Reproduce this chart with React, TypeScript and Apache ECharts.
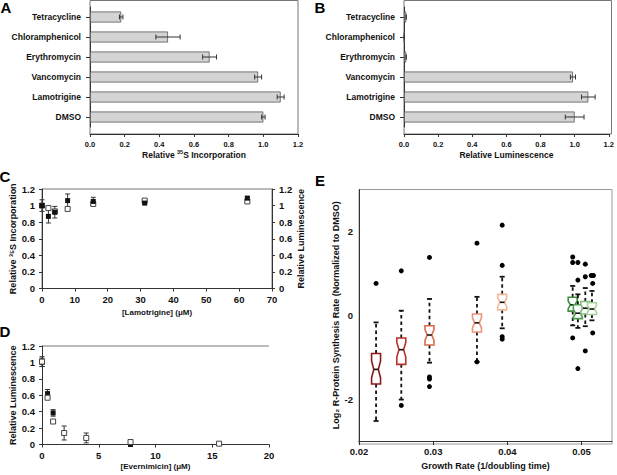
import React, { useEffect, useRef } from "react";
import * as echarts from "echarts";

const FONT = "'Liberation Sans', Arial, Helvetica, sans-serif";

// ---------- Panels A / B ----------
const drugs = ["Tetracycline", "Chloramphenicol", "Erythromycin", "Vancomycin", "Lamotrigine", "DMSO"];
const s35Incorporation = [0.18, 0.45, 0.69, 0.97, 1.1, 1.0];
const s35IncorporationErr = [0.01, 0.07, 0.04, 0.02, 0.02, 0.01];
const luminescence = [0.013, 0.002, 0.013, 0.99, 1.08, 1.0];
const luminescenceErr = [0.0, 0.0, 0.0, 0.015, 0.04, 0.055];

// ---------- Panel C ----------
const lamotrigineConc = [0, 1.95, 3.9, 7.8, 15.6, 31.25, 62.5];
const lamIncorporation = [1.0, 0.87, 0.92, 1.06, 1.05, 1.03, 1.09];
const lamIncorporationErr = [0.07, 0.08, 0.07, 0.08, 0.05, 0.01, 0.02];
const lamLuminescence = [1.0, 0.97, 0.93, 0.96, 1.02, 1.06, 1.05];
const lamLuminescenceErr = [0.02, 0.02, 0.02, 0.02, 0.02, 0.01, 0.02];

// ---------- Panel D ----------
const everConcFilled = [0, 0.49, 0.98, 7.8];
const everFilled = [1.0, 0.62, 0.385, 0.0];
const everFilledErr = [0.05, 0.05, 0.04, 0.0];
const everConcOpen = [0, 0.49, 0.98, 1.95, 3.9, 7.8, 15.6];
const everOpen = [1.01, 0.57, 0.28, 0.14, 0.08, 0.03, 0.01];
const everOpenErr = [0.06, 0.01, 0.01, 0.085, 0.06, 0.01, 0.01];

// ---------- Panel E ----------
const growthRates = [0.0223, 0.0257, 0.0295, 0.0359, 0.0393, 0.0488, 0.0495, 0.0505, 0.0514];
const whiskerLow = [-2.52, -2.01, -1.13, -1.11, -0.31, -0.24, -0.3, -0.26, -0.12];
const quartile1 = [-1.64, -1.17, -0.71, -0.4, 0.13, 0.1, -0.08, 0.03, 0.02];
const medians = [-1.29, -0.82, -0.47, -0.18, 0.31, 0.25, 0.05, 0.17, 0.15];
const quartile3 = [-0.91, -0.54, -0.25, 0.03, 0.5, 0.43, 0.25, 0.33, 0.3];
const whiskerHigh = [-0.17, 0.11, 0.39, 0.44, 0.92, 0.7, 0.5, 0.65, 0.58];
const boxColors = ["#8b1a1a", "#b83228", "#dd6a4a", "#e8937a", "#f2b899", "#3f8f3f", "#4e9c4e", "#82bf7e", "#a9d49e"];
const outlierRates = [
  0.0223, 0.0257, 0.0257, 0.0295, 0.0295, 0.0295, 0.0295, 0.0359, 0.0359, 0.0393, 0.0393, 0.0393, 0.0393,
  0.0488, 0.0488, 0.0488, 0.0495, 0.0495, 0.0495, 0.0505, 0.0505, 0.0505, 0.0513, 0.0516, 0.0515, 0.0515,
];
const outlierValues = [
  0.76, 1.06, -2.15, 1.38, -1.47, -1.52, -1.7, 1.72, -1.11, 2.15, 1.19, -0.51, -0.57,
  1.39, 1.26, -0.54, 1.26, 0.84, -1.27, 1.22, 0.92, -0.85, 0.95, 0.95, 0.76, -0.42,
];

const AXIS = "#333";
const FRAME = "#777";

const bold = (size: number) => ({ fontFamily: FONT, fontWeight: "bold" as const, fontSize: size, color: "#111" });

function hErrBars(xi: number, yi: number, vals: number[], errs: number[]) {
  return {
    type: "custom",
    xAxisIndex: xi,
    yAxisIndex: yi,
    data: vals.map((v, i) => [v - errs[i], v + errs[i], i]),
    encode: { x: [0, 1], y: 2 },
    renderItem: (_p: any, api: any) => {
      const i = api.value(2);
      const p1 = api.coord([api.value(0), i]);
      const p2 = api.coord([api.value(1), i]);
      const h = 2.5;
      const st = { stroke: "#333", lineWidth: 1 };
      return {
        type: "group",
        children: [
          { type: "line", shape: { x1: p1[0], y1: p1[1], x2: p2[0], y2: p2[1] }, style: st },
          { type: "line", shape: { x1: p1[0], y1: p1[1] - h, x2: p1[0], y2: p1[1] + h }, style: st },
          { type: "line", shape: { x1: p2[0], y1: p2[1] - h, x2: p2[0], y2: p2[1] + h }, style: st },
        ],
      };
    },
    z: 5,
  };
}

function vErrBars(xi: number, yi: number, xs: number[], vals: number[], errs: number[]) {
  return {
    type: "custom",
    xAxisIndex: xi,
    yAxisIndex: yi,
    data: vals.map((v, i) => [xs[i], v - errs[i], v + errs[i]]),
    encode: { x: 0, y: [1, 2] },
    renderItem: (_p: any, api: any) => {
      const p1 = api.coord([api.value(0), api.value(1)]);
      const p2 = api.coord([api.value(0), api.value(2)]);
      const w = 2.5;
      const st = { stroke: "#333", lineWidth: 1 };
      return {
        type: "group",
        children: [
          { type: "line", shape: { x1: p1[0], y1: p1[1], x2: p2[0], y2: p2[1] }, style: st },
          { type: "line", shape: { x1: p1[0] - w, y1: p1[1], x2: p1[0] + w, y2: p1[1] }, style: st },
          { type: "line", shape: { x1: p2[0] - w, y1: p2[1], x2: p2[0] + w, y2: p2[1] }, style: st },
        ],
      };
    },
    z: 5,
  };
}

export default function App() {
  const ref = useRef<HTMLDivElement>(null);
  useEffect(() => {
    if (!ref.current) return;
    const chart = echarts.init(ref.current, undefined, { renderer: "svg" });

    const supRich = {
      sup: { fontFamily: FONT, fontWeight: "bold", fontSize: 5.5, verticalAlign: "top", lineHeight: 5, color: "#111" },
    };

    const axisLine = (color: string) => ({ show: true, onZero: false, lineStyle: { color } });

    const barX = (gi: number, name: string, rich?: any) => ({
      gridIndex: gi,
      type: "value",
      min: 0,
      max: 1.2,
      interval: 0.2,
      offset: 7,
      axisLine: axisLine(AXIS),
      axisTick: { show: true, length: 3, lineStyle: { color: AXIS } },
      axisLabel: { ...bold(7.5), margin: 6, formatter: (v: number) => v.toFixed(1) },
      splitLine: { show: false },
      name,
      nameLocation: "middle",
      nameGap: 15,
      nameTextStyle: { ...bold(8.5), lineHeight: 11, rich },
    });
    const barY = (gi: number) => ({
      gridIndex: gi,
      type: "category",
      data: drugs,
      inverse: true,
      axisLine: axisLine(AXIS),
      axisTick: { show: true, alignWithLabel: true, length: 4, lineStyle: { color: AXIS } },
      axisLabel: { ...bold(8.5), margin: 9 },
    });
    const valueY = (gi: number, name: string, gap: number, fs: number, extra: any = {}) => ({
      gridIndex: gi,
      type: "value",
      min: 0,
      max: 1.2,
      interval: 0.2,
      axisLine: axisLine(AXIS),
      axisTick: { show: true, length: 3, lineStyle: { color: AXIS } },
      axisLabel: { ...bold(9.5), margin: 7 },
      splitLine: { show: false },
      name,
      nameLocation: "middle",
      nameRotate: 90,
      nameGap: gap,
      nameTextStyle: bold(fs),
      ...extra,
    });

    const option: any = {
      animation: false,
      backgroundColor: "#fff",
      textStyle: { fontFamily: FONT },
      grid: [
        { left: 90, top: 7, width: 208, height: 120 },
        { left: 404, top: 7, width: 207.5, height: 120 },
        { left: 42, top: 189, width: 230, height: 99.5 },
        { left: 42, top: 346, width: 227, height: 98.5 },
        { left: 359, top: 189.5, width: 253, height: 254.5 },
      ],
      xAxis: [
        barX(0, "Relative {sup|35}S Incorporation", supRich),
        barX(1, "Relative Luminescence"),
        {
          gridIndex: 2,
          type: "value",
          min: 0,
          max: 70,
          interval: 10,
          axisLine: axisLine(AXIS),
          axisTick: { show: true, length: 3, lineStyle: { color: AXIS } },
          axisLabel: { ...bold(9.5), margin: 6 },
          splitLine: { show: false },
          name: "[Lamotrigine] (μM)",
          nameLocation: "middle",
          nameGap: 20,
          nameTextStyle: bold(8),
        },
        {
          gridIndex: 3,
          type: "value",
          min: 0,
          max: 20,
          interval: 5,
          axisLine: axisLine(AXIS),
          axisTick: { show: true, length: 3, lineStyle: { color: AXIS } },
          axisLabel: { ...bold(9.5), margin: 6 },
          splitLine: { show: false },
          name: "[Evernimicin] (μM)",
          nameLocation: "middle",
          nameGap: 18,
          nameTextStyle: bold(8),
        },
        {
          gridIndex: 4,
          type: "value",
          min: 0.02,
          max: 0.0541,
          interval: 0.01,
          axisLine: axisLine(AXIS),
          axisTick: { show: true, length: 4, lineStyle: { color: AXIS } },
          axisLabel: { ...bold(9.5), margin: 5, showMaxLabel: false, formatter: (v: number) => v.toFixed(2) },
          splitLine: { show: false },
          name: "Growth Rate (1/doubling time)",
          nameLocation: "middle",
          nameGap: 17,
          nameTextStyle: bold(9),
        },
      ],
      yAxis: [
        barY(0),
        barY(1),
        valueY(2, "Relative ³⁵S Incorporation", 25, 9),
        valueY(2, "Relative Luminescence", 20, 9, { position: "right" }),
        valueY(3, "Relative Luminescence", 25, 9),
        {
          gridIndex: 4,
          type: "value",
          min: -3,
          max: 3,
          interval: 1,
          axisLine: axisLine(AXIS),
          axisTick: { show: false },
          axisLabel: { ...bold(9.5), margin: 6, formatter: (v: number) => (v % 2 === 0 ? String(v) : "") },
          splitLine: { show: false },
          name: "Log₂ R-Protein Synthesis Rate (Normalized to DMSO)",
          nameLocation: "middle",
          nameRotate: 90,
          nameGap: 18,
          nameTextStyle: bold(9),
        },
      ],
      series: [
        {
          type: "bar",
          xAxisIndex: 0,
          yAxisIndex: 0,
          data: s35Incorporation,
          barWidth: 11,
          itemStyle: { color: "#d4d4d4", borderColor: "#555", borderWidth: 0.8 },
        },
        hErrBars(0, 0, s35Incorporation, s35IncorporationErr),
        {
          type: "bar",
          xAxisIndex: 1,
          yAxisIndex: 1,
          data: luminescence,
          barWidth: 11,
          itemStyle: { color: "#d4d4d4", borderColor: "#555", borderWidth: 0.8 },
        },
        hErrBars(1, 1, luminescence, luminescenceErr),
        vErrBars(2, 3, lamotrigineConc, lamLuminescence, lamLuminescenceErr),
        {
          type: "scatter",
          xAxisIndex: 2,
          yAxisIndex: 3,
          symbol: "rect",
          symbolSize: 5,
          data: lamotrigineConc.map((c, i) => [c, lamLuminescence[i]]),
          itemStyle: { color: "#fff", borderColor: "#444", borderWidth: 1, opacity: 1 },
          z: 6,
        },
        vErrBars(2, 2, lamotrigineConc, lamIncorporation, lamIncorporationErr),
        {
          type: "scatter",
          xAxisIndex: 2,
          yAxisIndex: 2,
          symbol: "rect",
          symbolSize: 5,
          data: lamotrigineConc.map((c, i) => [c, lamIncorporation[i]]),
          itemStyle: { color: "#111", opacity: 1 },
          z: 7,
        },
        vErrBars(3, 4, everConcFilled, everFilled, everFilledErr),
        {
          type: "scatter",
          xAxisIndex: 3,
          yAxisIndex: 4,
          symbol: "rect",
          symbolSize: 5,
          data: everConcFilled.map((c, i) => [c, everFilled[i]]),
          itemStyle: { color: "#111", opacity: 1 },
          z: 6,
        },
        vErrBars(3, 4, everConcOpen, everOpen, everOpenErr),
        {
          type: "scatter",
          xAxisIndex: 3,
          yAxisIndex: 4,
          symbol: "rect",
          symbolSize: 5,
          data: everConcOpen.map((c, i) => [c, everOpen[i]]),
          itemStyle: { color: "#fff", borderColor: "#444", borderWidth: 1, opacity: 1 },
          z: 7,
        },
        {
          type: "custom",
          xAxisIndex: 4,
          yAxisIndex: 5,
          data: growthRates.map((g, i) => [g, whiskerLow[i], quartile1[i], medians[i], quartile3[i], whiskerHigh[i]]),
          encode: { x: 0, y: [1, 2, 3, 4, 5] },
          renderItem: (params: any, api: any) => {
            const x = api.value(0);
            const lo = api.coord([x, api.value(1)]);
            const q1 = api.coord([x, api.value(2)])[1];
            const md = api.coord([x, api.value(3)])[1];
            const q3 = api.coord([x, api.value(4)])[1];
            const hi = api.coord([x, api.value(5)])[1];
            const cx = lo[0];
            const yl = lo[1];
            const hw = 4.5;
            const ind = 2.2;
            const notch = 0.28 * (q1 - q3);
            const color = boxColors[params.dataIndex];
            const wh = { stroke: "#111", lineWidth: 1.8, lineDash: [3.5, 3] };
            const cap = { stroke: "#111", lineWidth: 1.8 };
            return {
              type: "group",
              children: [
                { type: "line", shape: { x1: cx, y1: q3, x2: cx, y2: hi }, style: wh },
                { type: "line", shape: { x1: cx, y1: q1, x2: cx, y2: yl }, style: wh },
                { type: "line", shape: { x1: cx - 2.5, y1: hi, x2: cx + 2.5, y2: hi }, style: cap },
                { type: "line", shape: { x1: cx - 2.5, y1: yl, x2: cx + 2.5, y2: yl }, style: cap },
                {
                  type: "polygon",
                  shape: {
                    points: [
                      [cx - hw, q3],
                      [cx + hw, q3],
                      [cx + hw, md - notch],
                      [cx + hw - ind, md],
                      [cx + hw, md + notch],
                      [cx + hw, q1],
                      [cx - hw, q1],
                      [cx - hw, md + notch],
                      [cx - hw + ind, md],
                      [cx - hw, md - notch],
                    ],
                  },
                  style: { fill: "#fff", stroke: color, lineWidth: 1.6 },
                },
                { type: "line", shape: { x1: cx - hw + ind, y1: md, x2: cx + hw - ind, y2: md }, style: { stroke: "#111", lineWidth: 1.6 } },
              ],
            };
          },
          z: 5,
        },
        {
          type: "scatter",
          xAxisIndex: 4,
          yAxisIndex: 5,
          symbol: "circle",
          symbolSize: 5,
          data: outlierRates.map((g, i) => [g, outlierValues[i]]),
          itemStyle: { color: "#000", opacity: 1 },
          z: 6,
        },
      ],
      graphic: [
        { type: "rect", shape: { x: 90, y: 0.5, width: 208, height: 133.5 }, style: { fill: "none", stroke: FRAME, lineWidth: 1 }, silent: true },
        { type: "rect", shape: { x: 404, y: 0.5, width: 207.5, height: 133.5 }, style: { fill: "none", stroke: FRAME, lineWidth: 1 }, silent: true },
        { type: "rect", shape: { x: 42, y: 189, width: 230, height: 99.5 }, style: { fill: "none", stroke: FRAME, lineWidth: 1 }, silent: true },
        { type: "line", shape: { x1: 42, y1: 346, x2: 269, y2: 346 }, style: { stroke: FRAME, lineWidth: 1 }, silent: true },
        { type: "rect", shape: { x: 359, y: 189.5, width: 253, height: 254.5 }, style: { fill: "none", stroke: "#999", lineWidth: 1 }, silent: true },
        ...[
          ["A", 6, 7],
          ["B", 320, 7.5],
          ["C", 5, 176.5],
          ["D", 5, 331],
          ["E", 320, 180],
        ].map(([t, x, y]) => ({
          type: "text",
          x: x as number,
          y: y as number,
          style: {
            text: t as string,
            fontFamily: FONT,
            fontWeight: "bold",
            fontSize: 15,
            fill: "#000",
            align: "center",
            verticalAlign: "middle",
          },
          silent: true,
        })),
      ],
    };

    chart.setOption(option);
    return () => chart.dispose();
  }, []);

  return (
    <div
      ref={ref}
      style={{ position: "fixed", left: 0, top: 0, width: 617, height: 475, background: "#fff" }}
    />
  );
}
